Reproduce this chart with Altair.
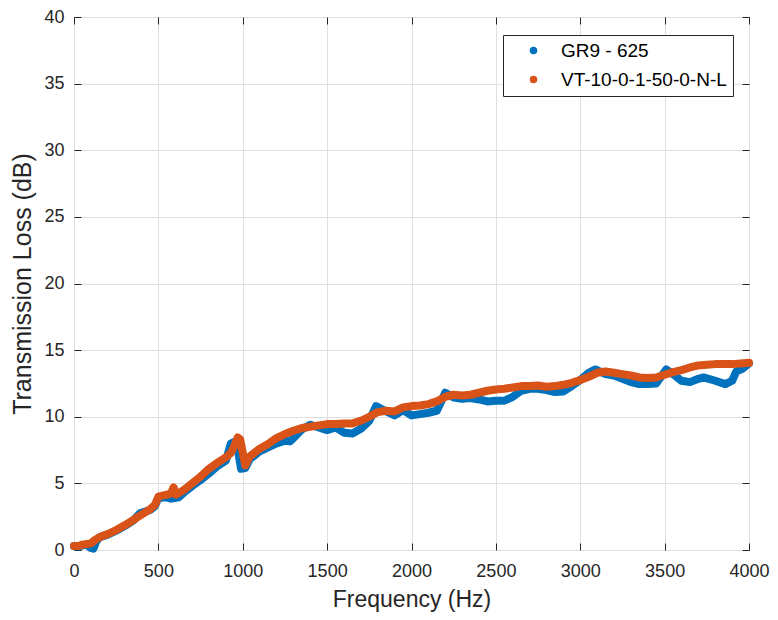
import altair as alt
import pandas as pd

series_names = ["GR9 - 625", "VT-10-0-1-50-0-N-L"]
series_colors = ["#0072BD", "#D95319"]

freq_gr9 = [0, 25, 50, 75, 100, 115, 130, 150, 200, 250, 300, 350, 390, 450, 480, 500,
            550, 575, 595, 620, 650, 700, 750, 800, 850, 900, 930, 950, 970, 990, 1015,
            1040, 1100, 1150, 1200, 1250, 1280, 1300, 1350, 1400, 1450, 1500, 1550, 1600,
            1650, 1700, 1750, 1790, 1850, 1900, 1950, 2000, 2050, 2100, 2150, 2200, 2250,
            2300, 2350, 2400, 2450, 2500, 2550, 2600, 2650, 2700, 2750, 2800, 2850, 2900,
            2950, 3000, 3050, 3090, 3150, 3200, 3250, 3300, 3350, 3400, 3450, 3510, 3550,
            3600, 3650, 3700, 3730, 3800, 3860, 3900, 3925, 3960, 4000]
tl_gr9 = [0.3, 0.25, 0.35, 0.4, 0.15, 0.1, 0.6, 0.95, 1.15, 1.45, 1.8, 2.2, 2.75, 3.0, 3.3, 3.9,
          3.95, 3.85, 3.9, 3.95, 4.3, 4.8, 5.25, 5.75, 6.3, 6.7, 8.0, 8.1, 7.6, 6.1, 6.15,
          6.8, 7.4, 7.7, 8.0, 8.2, 8.15, 8.4, 9.05, 9.4, 9.2, 9.0, 9.2, 8.8,
          8.75, 9.1, 9.7, 10.8, 10.4, 10.1, 10.5, 10.1, 10.2, 10.3, 10.45, 11.8, 11.45,
          11.35, 11.4, 11.3, 11.15, 11.2, 11.2, 11.5, 11.95, 12.1, 12.1, 12.0, 11.85, 11.9,
          12.3, 12.75, 13.3, 13.55, 13.2, 13.1, 12.85, 12.6, 12.45, 12.45, 12.5, 13.55, 13.2,
          12.7, 12.6, 12.85, 12.95, 12.7, 12.45, 12.7, 13.4, 13.6, 14.0]

freq_vt = [0, 25, 50, 75, 100, 125, 150, 200, 250, 300, 350, 400, 450, 480, 500, 550, 575,
           590, 605, 650, 700, 750, 800, 850, 900, 930, 950, 970, 985, 1000, 1015, 1040,
           1100, 1150, 1200, 1250, 1300, 1350, 1400, 1450, 1500, 1550, 1600, 1650, 1700,
           1750, 1800, 1850, 1900, 1950, 2000, 2050, 2100, 2150, 2200, 2250, 2300, 2350,
           2400, 2450, 2500, 2550, 2600, 2650, 2700, 2750, 2800, 2850, 2900, 2950, 3000,
           3050, 3100, 3150, 3200, 3250, 3300, 3350, 3400, 3450, 3500, 3550, 3600, 3650,
           3700, 3750, 3800, 3850, 3900, 3950, 4000]
tl_vt = [0.3, 0.3, 0.4, 0.45, 0.5, 0.75, 0.95, 1.2, 1.5, 1.85, 2.25, 2.65, 3.05, 3.4, 4.0, 4.15, 4.25,
         4.7, 4.15, 4.5, 5.0, 5.5, 6.1, 6.55, 6.95, 7.3, 7.8, 8.45, 8.3, 7.3, 6.35, 7.0,
         7.6, 7.95, 8.4, 8.7, 8.95, 9.15, 9.25, 9.35, 9.45, 9.45, 9.5, 9.5, 9.7,
         10.0, 10.35, 10.45, 10.4, 10.7, 10.8, 10.85, 10.95, 11.15, 11.5, 11.65, 11.6, 11.65,
         11.8, 11.95, 12.05, 12.1, 12.2, 12.3, 12.3, 12.35, 12.25, 12.3, 12.4, 12.55, 12.75,
         13.0, 13.3, 13.4, 13.3, 13.2, 13.1, 12.95, 12.9, 12.95, 13.15, 13.35, 13.5, 13.7,
         13.85, 13.9, 13.95, 13.95, 13.95, 14.0, 14.05]

x_ticks = [0, 500, 1000, 1500, 2000, 2500, 3000, 3500, 4000]
y_ticks = [0, 5, 10, 15, 20, 25, 30, 35, 40]

df = pd.concat([
    pd.DataFrame({"freq": freq_gr9, "tl": tl_gr9, "series": series_names[0]}),
    pd.DataFrame({"freq": freq_vt, "tl": tl_vt, "series": series_names[1]}),
], ignore_index=True)

W, H = 675, 533
FONT = "Liberation Sans"
INK = "#262626"
xs = alt.Scale(domain=[0, 4000], nice=False, zero=False)
ys = alt.Scale(domain=[0, 40], nice=False, zero=False)
cs = alt.Scale(domain=series_names, range=series_colors)

# dots (give the legend its filled circle symbols; hidden under the thick lines)
dots = alt.Chart(df).mark_circle(size=20, opacity=1).encode(
    x=alt.X("freq:Q", scale=xs, axis=alt.Axis(
        values=x_ticks, format="d", title="Frequency (Hz)", grid=True, tickSize=0,
        domain=False, labelPadding=12, titlePadding=8, labelFontSize=18,
        titleFontSize=23, labelFlush=False)),
    y=alt.Y("tl:Q", scale=ys, axis=alt.Axis(
        values=y_ticks, format="d", title="Transmission Loss (dB)", grid=True,
        tickSize=0, domain=False, labelPadding=10, titlePadding=8, labelFontSize=18,
        titleFontSize=25, labelFlush=False)),
    color=alt.Color("series:N", scale=cs, legend=alt.Legend(
        title=None, orient="none", legendX=429, legendY=18, direction="vertical",
        fillColor="white", strokeColor=INK, padding=6, symbolType="circle",
        symbolSize=36, symbolOffset=15, labelOffset=18, labelFontSize=19,
        labelLimit=300, labelFont=FONT, labelColor="#000000", rowPadding=9)),
)

band = alt.Chart(df).mark_line(strokeWidth=8, strokeCap="round", strokeJoin="round").encode(
    x=alt.X("freq:Q", scale=xs, axis=None),
    y=alt.Y("tl:Q", scale=ys, axis=None),
    color=alt.Color("series:N", scale=cs, legend=None),
)

ticks_in_a = alt.Chart(df).mark_point(opacity=0).encode(
    x=alt.X("freq:Q", scale=xs, axis=alt.Axis(
        orient="top", offset=-H, values=x_ticks, labels=False, title="", grid=False,
        domain=False, tickSize=7, tickColor=INK)),
    y=alt.Y("tl:Q", scale=ys, axis=alt.Axis(
        orient="right", offset=-W, values=y_ticks, labels=False, title="", grid=False,
        domain=False, tickSize=7, tickColor=INK)),
)

ticks_in_b = alt.Chart(df).mark_point(opacity=0).encode(
    x=alt.X("freq:Q", scale=xs, axis=alt.Axis(
        orient="bottom", offset=-H, values=x_ticks, labels=False, title="", grid=False,
        domain=False, tickSize=7, tickColor=INK)),
    y=alt.Y("tl:Q", scale=ys, axis=alt.Axis(
        orient="left", offset=-W, values=y_ticks, labels=False, title="", grid=False,
        domain=False, tickSize=7, tickColor=INK)),
)

chart = alt.layer(dots, band, ticks_in_a, ticks_in_b).resolve_axis(
    x="independent", y="independent"
).properties(
    width=W, height=H,
    autosize=alt.AutoSizeParams(type="none"),
    padding={"left": 66, "top": 9, "right": 21, "bottom": 62},
    background="white",
).configure_view(
    stroke=INK, strokeWidth=1
).configure_axis(
    labelFont=FONT, titleFont=FONT, labelColor=INK, titleColor=INK,
    titleFontWeight="normal", gridColor="#dfdfdf", gridWidth=1
)

chart.save("out.html", embed_options={"renderer": "svg", "actions": False})
